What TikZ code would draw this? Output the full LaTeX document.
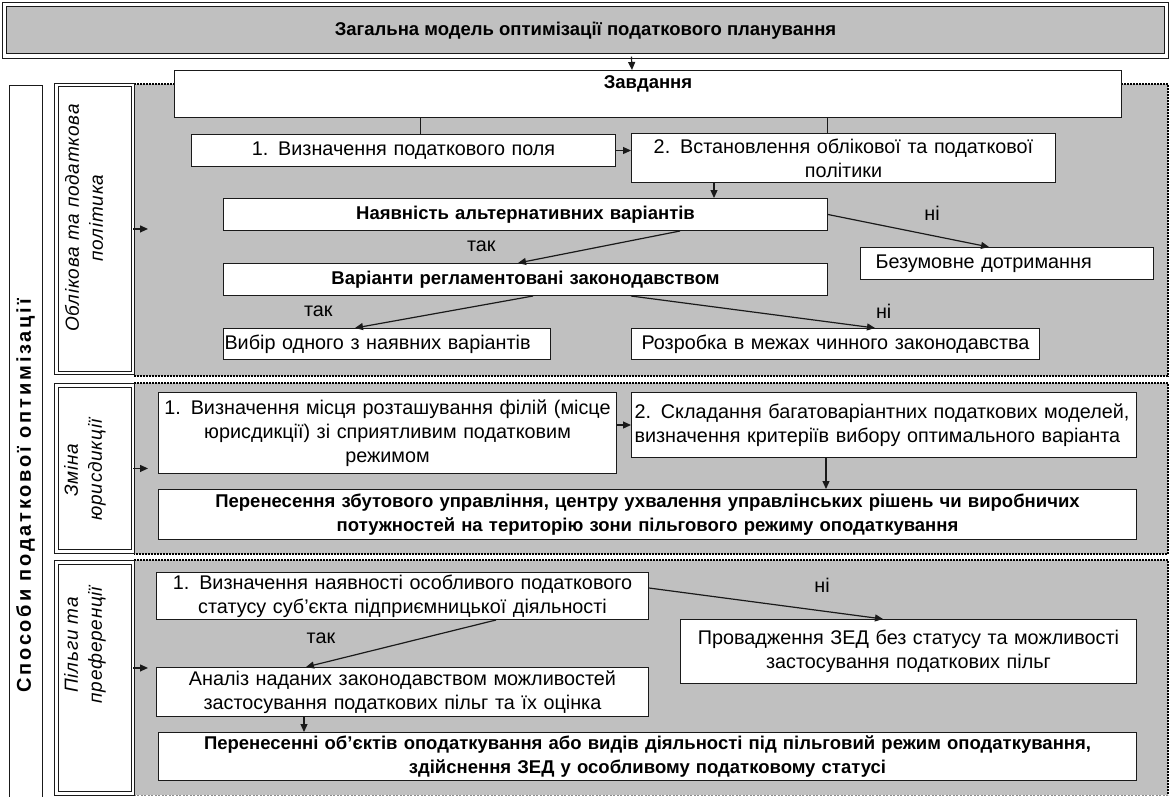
\documentclass[tikz,border=0pt]{standalone}
\usepackage{fontspec}
\setmainfont{Liberation Sans}
\newfontfamily\colfam{Liberation Sans}[LetterSpace=14]
\newfontfamily\labfam{Liberation Sans}[LetterSpace=4]
\usetikzlibrary{arrows.meta}
\definecolor{bg}{HTML}{C0C0C0}
\definecolor{ln}{HTML}{1A1A1A}
\newcommand\rf{\fontsize{19.8}{24}\selectfont}
\newcommand\bfn{\fontsize{18.5}{24}\selectfont\bfseries}
\newcommand\itn{\labfam\fontsize{19}{24}\selectfont\itshape}
\newcommand\colf{\colfam\fontsize{20}{24}\selectfont\bfseries}
\begin{document}
\begin{tikzpicture}[x=1pt,y=-1pt,
 box/.style={draw=ln, line width=1pt, fill=white, anchor=north west, inner xsep=3pt, inner ysep=0pt, align=center, font=\rf},
 bbox/.style={box, font=\bfn},
 labframe/.style={draw=ln, double=white, double distance=2.4pt, line width=0.9pt, fill=white, anchor=north west, inner sep=0pt},
 labtext/.style={rotate=90, font=\itn, align=center, inner sep=0pt},
 arr/.style={line width=1.2pt, draw=ln, -{Triangle[length=8pt,width=7pt]}},
 conn/.style={line width=1pt, draw=ln},
 lbl/.style={font=\rf, inner sep=1pt, fill=bg},
 patch/.style={fill=bg, inner sep=0pt, font=\rf, align=left},
 secline/.style={line width=1.6pt, dash pattern=on 1.6pt off 1.4pt, draw=black},
]
\useasboundingbox (0,0) rectangle (1172,796);
% section backgrounds
\fill[bg] (134,84) rectangle (1168,376);
\draw[secline] (134,84) -- (1168,84) -- (1168,376) -- (134,376);
\fill[bg] (134,383) rectangle (1168,554);
\draw[secline] (134,383) -- (1168,383) -- (1168,554) -- (134,554);
\fill[bg] (134,560) rectangle (1168,795);
\draw[secline] (134,560) -- (1168,560) -- (1168,795);
\draw[black!45, line width=0.8pt, dash pattern=on 2pt off 1.5pt] (1168,795) -- (134,795);

% title
\node[draw=ln, double=white, double distance=3.5pt, line width=1.1pt, fill=bg,
      minimum width=1162pt, minimum height=51.5pt, inner sep=0pt, font=\bfn] (title) at (585.5,30.25)
      {Загальна модель оптимізації податкового планування};

% left column
\node[draw=ln, line width=1pt, fill=white, rotate=90, minimum width=822pt, minimum height=33pt,
      inner sep=0pt, font=\colf] (col) at (25.5,496) {Способи податкової оптимізації};

% section label frames
\node[labframe, minimum width=76.5pt, minimum height=288pt] (lab1) at (56,84.5) {};
\node[labframe, minimum width=76.5pt, minimum height=166pt] (lab2) at (56,385) {};
\node[labframe, minimum width=76.5pt, minimum height=231pt] (lab3) at (56,562) {};
\node[labtext] (lab1t) at (84,218) {Облікова та податкова\\політика};
\node[labtext] (lab2t) at (85,470) {Зміна\\юрисдикції};
\node[labtext] (lab3t) at (85,645) {Пільги та\\преференції};

% section 1 boxes
\node[bbox, text width=941pt, minimum height=47pt] (zav) at (174,70) {Завдання\\~};
\node[box, text width=418pt, minimum height=32pt] (b1) at (191,134) {1. Визначення податкового поля};
\node[box, text width=418pt, minimum height=49pt] (b2) at (631,133) {2. Встановлення облікової та податкової\\політики};
\node[bbox, text width=598pt, minimum height=32pt] (b3) at (223,198) {Наявність альтернативних варіантів};
\node[box, text width=287pt, minimum height=32pt, align=left] (bz) at (860,247) {\hspace*{12pt}Безумовне дотримання};
\node[bbox, text width=598pt, minimum height=32pt] (b4) at (223,263) {Варіанти регламентовані законодавством};
\node[box, text width=325pt, inner xsep=1pt, minimum height=31pt, align=left] (bv) at (223,328) {Вибір одного з наявних варіантів};
\node[box, text width=402pt, minimum height=31pt] (br) at (631,328) {Розробка в межах чинного законодавства};

% section 2 boxes
\node[box, text width=456pt, inner xsep=1pt, minimum height=81pt] (c1) at (158,392) {1. Визначення місця розташування філій (місце\\юрисдикції) зі сприятливим податковим\\режимом};
\node[box, text width=499pt, minimum height=65pt, align=left] (c2) at (631,392) {2. Складання багатоваріантних податкових моделей,\\визначення критеріїв вибору оптимального варіанта};
\node[bbox, text width=972pt, minimum height=50pt] (c3) at (158,489) {Перенесення збутового управління, центру ухвалення управлінських рішень чи виробничих\\потужностей на територію зони пільгового режиму оподаткування};

% section 3 boxes
\node[box, text width=486pt, minimum height=47pt] (d1) at (156,572) {1. Визначення наявності особливого податкового\\статусу суб’єкта підприємницької діяльності};
\node[box, text width=450pt, minimum height=64pt] (d2) at (680,619) {Провадження ЗЕД без статусу та можливості\\застосування податкових пільг};
\node[box, text width=486pt, minimum height=49pt] (d3) at (156,667) {Аналіз наданих законодавством можливостей\\застосування податкових пільг та їх оцінка};
\node[bbox, text width=972pt, minimum height=48pt] (d4) at (158,732) {Перенесенні об’єктів оподаткування або видів діяльності під пільговий режим оподаткування,\\здійснення ЗЕД у особливому податковому статусі};

% yes/no labels
\node[patch, minimum height=31pt, text width=63pt] (t1) at (486.5,246.5) {\hspace*{12pt}так};
\node[patch, minimum height=31pt, text width=55pt] (t2) at (327.5,311.5) {\hspace*{4pt}так};
\node[patch, minimum height=31pt, text width=50pt] (n2) at (900,311.5) {\hspace*{1pt}ні};
\node[lbl] (n1) at (932,213) {ні};
\node[lbl] (t3) at (321,638) {так};
\node[lbl] (n3) at (822,585) {ні};

% connectors
\draw[arr] ([xshift=627.5pt]title.south west) -- ([xshift=458pt]zav.north west);
\draw[conn] ([xshift=246pt]zav.south west) -- ([xshift=229pt]b1.north west);
\draw[conn] ([xshift=653pt]zav.south west) -- ([xshift=196pt]b2.north west);
\draw[arr] (b1.east) -- (b1.east -| b2.west);
\draw[arr] ([xshift=83pt]b2.south west) -- ([xshift=491pt]b3.north west);
\draw[arr] (b3.east) -- ([xshift=129pt]bz.north west);
\draw[arr] ([xshift=457pt]b3.south west) -- ([xshift=295pt]b4.north west);
\draw[arr] ([xshift=310pt]b4.south west) -- ([xshift=132pt]bv.north west);
\draw[arr] ([xshift=408pt]b4.south west) -- ([xshift=244pt]br.north west);
\coordinate (e1) at (148,231);
\draw[arr] (lab1.east) -- (lab1.east -| e1);

\draw[arr] (c2.west -| c1.east) -- (c2.west);
\draw[arr] ([xshift=195pt]c2.south west) -- ([xshift=668pt]c3.north west);
\draw[arr] (lab2.east) -- (lab2.east -| e1);

\draw[arr] ([yshift=8pt]d1.east) -- ([xshift=203pt]d2.north west);
\draw[arr] ([xshift=340pt]d1.south west) -- ([xshift=150pt]d3.north west);
\draw[arr] ([xshift=148pt]d3.south west) -- ([xshift=146pt]d4.north west);
\coordinate (s3) at ([yshift=10pt]lab3.east);
\draw[arr] (s3) -- (s3 -| e1);
\end{tikzpicture}
\end{document}
